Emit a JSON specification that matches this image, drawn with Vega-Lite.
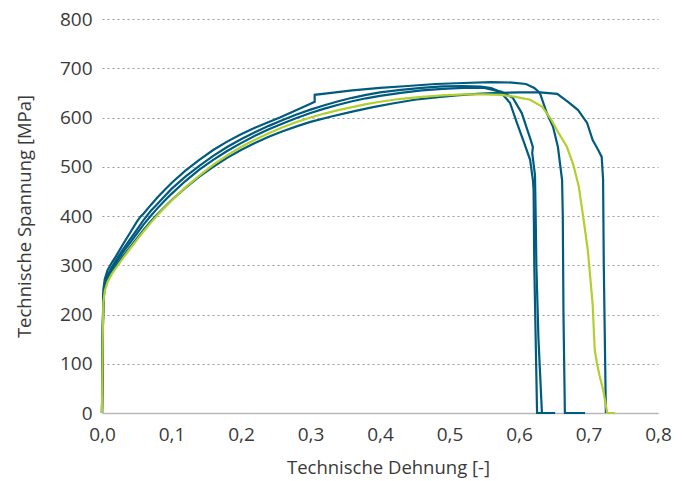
{
  "$schema": "https://vega.github.io/schema/vega-lite/v6.json",
  "width": 556,
  "height": 394,
  "autosize": {"type": "none"},
  "padding": {"left": 102, "top": 19, "right": 28, "bottom": 68},
  "background": "white",
  "config": {"view": {"stroke": null}, "font": "Open Sans"},
  "data": {"values": [
    {"s":"D1","i":0,"x":0,"y":0},{"s":"D1","i":1,"x":0.001,"y":150},{"s":"D1","i":2,"x":0.002,"y":240},{"s":"D1","i":3,"x":0.004,"y":262},{"s":"D1","i":4,"x":0.008,"y":280},{"s":"D1","i":5,"x":0.014,"y":296},{"s":"D1","i":6,"x":0.02,"y":310},{"s":"D1","i":7,"x":0.03,"y":332},{"s":"D1","i":8,"x":0.04,"y":352},{"s":"D1","i":9,"x":0.05,"y":372},{"s":"D1","i":10,"x":0.06,"y":392},{"s":"D1","i":11,"x":0.07,"y":410},{"s":"D1","i":12,"x":0.08,"y":425},{"s":"D1","i":13,"x":0.09,"y":440},{"s":"D1","i":14,"x":0.10,"y":455},{"s":"D1","i":15,"x":0.12,"y":480},{"s":"D1","i":16,"x":0.14,"y":502},{"s":"D1","i":17,"x":0.16,"y":522},{"s":"D1","i":18,"x":0.18,"y":540},{"s":"D1","i":19,"x":0.20,"y":556},{"s":"D1","i":20,"x":0.22,"y":570},{"s":"D1","i":21,"x":0.24,"y":583},{"s":"D1","i":22,"x":0.26,"y":595},{"s":"D1","i":23,"x":0.28,"y":606},{"s":"D1","i":24,"x":0.30,"y":616},{"s":"D1","i":25,"x":0.32,"y":625},{"s":"D1","i":26,"x":0.34,"y":633},{"s":"D1","i":27,"x":0.36,"y":640},{"s":"D1","i":28,"x":0.38,"y":646},{"s":"D1","i":29,"x":0.40,"y":651},{"s":"D1","i":30,"x":0.43,"y":656},{"s":"D1","i":31,"x":0.46,"y":660},{"s":"D1","i":32,"x":0.49,"y":663},{"s":"D1","i":33,"x":0.52,"y":664},{"s":"D1","i":34,"x":0.545,"y":663},{"s":"D1","i":35,"x":0.56,"y":660},{"s":"D1","i":36,"x":0.573,"y":652},{"s":"D1","i":37,"x":0.587,"y":630},{"s":"D1","i":38,"x":0.597,"y":589},{"s":"D1","i":39,"x":0.606,"y":554},{"s":"D1","i":40,"x":0.616,"y":514},{"s":"D1","i":41,"x":0.62,"y":473},{"s":"D1","i":42,"x":0.621,"y":453},{"s":"D1","i":43,"x":0.622,"y":300},{"s":"D1","i":44,"x":0.624,"y":150},{"s":"D1","i":45,"x":0.626,"y":0},{"s":"D1","i":46,"x":0.652,"y":0},

    {"s":"D2","i":0,"x":0,"y":0},{"s":"D2","i":1,"x":0.001,"y":150},{"s":"D2","i":2,"x":0.002,"y":235},{"s":"D2","i":3,"x":0.004,"y":258},{"s":"D2","i":4,"x":0.008,"y":276},{"s":"D2","i":5,"x":0.014,"y":292},{"s":"D2","i":6,"x":0.02,"y":305},{"s":"D2","i":7,"x":0.03,"y":326},{"s":"D2","i":8,"x":0.04,"y":345},{"s":"D2","i":9,"x":0.05,"y":364},{"s":"D2","i":10,"x":0.06,"y":383},{"s":"D2","i":11,"x":0.07,"y":400},{"s":"D2","i":12,"x":0.08,"y":416},{"s":"D2","i":13,"x":0.09,"y":431},{"s":"D2","i":14,"x":0.10,"y":445},{"s":"D2","i":15,"x":0.12,"y":471},{"s":"D2","i":16,"x":0.14,"y":494},{"s":"D2","i":17,"x":0.16,"y":514},{"s":"D2","i":18,"x":0.18,"y":532},{"s":"D2","i":19,"x":0.20,"y":548},{"s":"D2","i":20,"x":0.22,"y":563},{"s":"D2","i":21,"x":0.24,"y":576},{"s":"D2","i":22,"x":0.26,"y":588},{"s":"D2","i":23,"x":0.28,"y":599},{"s":"D2","i":24,"x":0.30,"y":609},{"s":"D2","i":25,"x":0.32,"y":618},{"s":"D2","i":26,"x":0.34,"y":626},{"s":"D2","i":27,"x":0.36,"y":633},{"s":"D2","i":28,"x":0.38,"y":639},{"s":"D2","i":29,"x":0.40,"y":644},{"s":"D2","i":30,"x":0.43,"y":650},{"s":"D2","i":31,"x":0.46,"y":655},{"s":"D2","i":32,"x":0.49,"y":658},{"s":"D2","i":33,"x":0.52,"y":660},{"s":"D2","i":34,"x":0.55,"y":660},{"s":"D2","i":35,"x":0.575,"y":652},{"s":"D2","i":36,"x":0.591,"y":640},{"s":"D2","i":37,"x":0.604,"y":609},{"s":"D2","i":38,"x":0.612,"y":575},{"s":"D2","i":39,"x":0.616,"y":558},{"s":"D2","i":40,"x":0.62,"y":540},{"s":"D2","i":41,"x":0.619,"y":528},{"s":"D2","i":42,"x":0.623,"y":483},{"s":"D2","i":43,"x":0.624,"y":400},{"s":"D2","i":44,"x":0.625,"y":300},{"s":"D2","i":45,"x":0.628,"y":150},{"s":"D2","i":46,"x":0.633,"y":0},{"s":"D2","i":47,"x":0.640,"y":0},

    {"s":"D3","i":0,"x":0,"y":0},{"s":"D3","i":1,"x":0.001,"y":160},{"s":"D3","i":2,"x":0.002,"y":250},{"s":"D3","i":3,"x":0.004,"y":272},{"s":"D3","i":4,"x":0.008,"y":290},{"s":"D3","i":5,"x":0.014,"y":305},{"s":"D3","i":6,"x":0.02,"y":318},{"s":"D3","i":7,"x":0.03,"y":342},{"s":"D3","i":8,"x":0.04,"y":365},{"s":"D3","i":9,"x":0.05,"y":388},{"s":"D3","i":10,"x":0.055,"y":398},{"s":"D3","i":11,"x":0.06,"y":405},{"s":"D3","i":12,"x":0.07,"y":422},{"s":"D3","i":13,"x":0.08,"y":438},{"s":"D3","i":14,"x":0.09,"y":453},{"s":"D3","i":15,"x":0.10,"y":467},{"s":"D3","i":16,"x":0.12,"y":492},{"s":"D3","i":17,"x":0.14,"y":514},{"s":"D3","i":18,"x":0.16,"y":534},{"s":"D3","i":19,"x":0.18,"y":551},{"s":"D3","i":20,"x":0.20,"y":566},{"s":"D3","i":21,"x":0.22,"y":579},{"s":"D3","i":22,"x":0.24,"y":591},{"s":"D3","i":23,"x":0.256,"y":600},{"s":"D3","i":24,"x":0.28,"y":615},{"s":"D3","i":25,"x":0.30,"y":628},{"s":"D3","i":26,"x":0.306,"y":632},{"s":"D3","i":27,"x":0.306,"y":646},{"s":"D3","i":28,"x":0.33,"y":650},{"s":"D3","i":29,"x":0.36,"y":655},{"s":"D3","i":30,"x":0.40,"y":660},{"s":"D3","i":31,"x":0.44,"y":664},{"s":"D3","i":32,"x":0.48,"y":668},{"s":"D3","i":33,"x":0.52,"y":670},{"s":"D3","i":34,"x":0.56,"y":672},{"s":"D3","i":35,"x":0.59,"y":671},{"s":"D3","i":36,"x":0.61,"y":668},{"s":"D3","i":37,"x":0.622,"y":660},{"s":"D3","i":38,"x":0.63,"y":650},{"s":"D3","i":39,"x":0.64,"y":609},{"s":"D3","i":40,"x":0.649,"y":581},{"s":"D3","i":41,"x":0.656,"y":540},{"s":"D3","i":42,"x":0.662,"y":473},{"s":"D3","i":43,"x":0.663,"y":400},{"s":"D3","i":44,"x":0.664,"y":200},{"s":"D3","i":45,"x":0.666,"y":0},{"s":"D3","i":46,"x":0.695,"y":0},

    {"s":"D4","i":0,"x":0,"y":0},{"s":"D4","i":1,"x":0.001,"y":150},{"s":"D4","i":2,"x":0.002,"y":230},{"s":"D4","i":3,"x":0.004,"y":252},{"s":"D4","i":4,"x":0.008,"y":270},{"s":"D4","i":5,"x":0.014,"y":286},{"s":"D4","i":6,"x":0.02,"y":298},{"s":"D4","i":7,"x":0.03,"y":318},{"s":"D4","i":8,"x":0.04,"y":336},{"s":"D4","i":9,"x":0.05,"y":354},{"s":"D4","i":10,"x":0.06,"y":372},{"s":"D4","i":11,"x":0.07,"y":389},{"s":"D4","i":12,"x":0.08,"y":404},{"s":"D4","i":13,"x":0.09,"y":418},{"s":"D4","i":14,"x":0.10,"y":432},{"s":"D4","i":15,"x":0.12,"y":457},{"s":"D4","i":16,"x":0.14,"y":480},{"s":"D4","i":17,"x":0.16,"y":500},{"s":"D4","i":18,"x":0.18,"y":518},{"s":"D4","i":19,"x":0.20,"y":534},{"s":"D4","i":20,"x":0.22,"y":548},{"s":"D4","i":21,"x":0.24,"y":561},{"s":"D4","i":22,"x":0.26,"y":572},{"s":"D4","i":23,"x":0.28,"y":582},{"s":"D4","i":24,"x":0.30,"y":591},{"s":"D4","i":25,"x":0.33,"y":602},{"s":"D4","i":26,"x":0.36,"y":612},{"s":"D4","i":27,"x":0.39,"y":621},{"s":"D4","i":28,"x":0.42,"y":629},{"s":"D4","i":29,"x":0.45,"y":636},{"s":"D4","i":30,"x":0.48,"y":641},{"s":"D4","i":31,"x":0.51,"y":645},{"s":"D4","i":32,"x":0.54,"y":648},{"s":"D4","i":33,"x":0.57,"y":650},{"s":"D4","i":34,"x":0.60,"y":651},{"s":"D4","i":35,"x":0.63,"y":651},{"s":"D4","i":36,"x":0.655,"y":648},{"s":"D4","i":37,"x":0.671,"y":631},{"s":"D4","i":38,"x":0.685,"y":615},{"s":"D4","i":39,"x":0.698,"y":589},{"s":"D4","i":40,"x":0.706,"y":554},{"s":"D4","i":41,"x":0.714,"y":534},{"s":"D4","i":42,"x":0.719,"y":520},{"s":"D4","i":43,"x":0.721,"y":473},{"s":"D4","i":44,"x":0.722,"y":300},{"s":"D4","i":45,"x":0.725,"y":0},

    {"s":"L","i":0,"x":0,"y":0},{"s":"L","i":1,"x":0.001,"y":150},{"s":"L","i":2,"x":0.002,"y":225},{"s":"L","i":3,"x":0.004,"y":248},{"s":"L","i":4,"x":0.008,"y":266},{"s":"L","i":5,"x":0.014,"y":282},{"s":"L","i":6,"x":0.02,"y":294},{"s":"L","i":7,"x":0.03,"y":314},{"s":"L","i":8,"x":0.04,"y":333},{"s":"L","i":9,"x":0.05,"y":351},{"s":"L","i":10,"x":0.06,"y":369},{"s":"L","i":11,"x":0.07,"y":386},{"s":"L","i":12,"x":0.08,"y":402},{"s":"L","i":13,"x":0.09,"y":417},{"s":"L","i":14,"x":0.10,"y":431},{"s":"L","i":15,"x":0.12,"y":458},{"s":"L","i":16,"x":0.14,"y":482},{"s":"L","i":17,"x":0.16,"y":504},{"s":"L","i":18,"x":0.18,"y":523},{"s":"L","i":19,"x":0.20,"y":540},{"s":"L","i":20,"x":0.22,"y":555},{"s":"L","i":21,"x":0.24,"y":568},{"s":"L","i":22,"x":0.26,"y":580},{"s":"L","i":23,"x":0.28,"y":591},{"s":"L","i":24,"x":0.30,"y":600},{"s":"L","i":25,"x":0.32,"y":608},{"s":"L","i":26,"x":0.34,"y":615},{"s":"L","i":27,"x":0.36,"y":621},{"s":"L","i":28,"x":0.38,"y":627},{"s":"L","i":29,"x":0.40,"y":632},{"s":"L","i":30,"x":0.43,"y":638},{"s":"L","i":31,"x":0.46,"y":642},{"s":"L","i":32,"x":0.49,"y":645},{"s":"L","i":33,"x":0.52,"y":647},{"s":"L","i":34,"x":0.55,"y":647},{"s":"L","i":35,"x":0.575,"y":646},{"s":"L","i":36,"x":0.595,"y":642},{"s":"L","i":37,"x":0.616,"y":636},{"s":"L","i":38,"x":0.633,"y":622},{"s":"L","i":39,"x":0.645,"y":599},{"s":"L","i":40,"x":0.656,"y":571},{"s":"L","i":41,"x":0.669,"y":540},{"s":"L","i":42,"x":0.678,"y":505},{"s":"L","i":43,"x":0.686,"y":460},{"s":"L","i":44,"x":0.691,"y":412},{"s":"L","i":45,"x":0.699,"y":331},{"s":"L","i":46,"x":0.706,"y":220},{"s":"L","i":47,"x":0.709,"y":128},{"s":"L","i":48,"x":0.712,"y":102},{"s":"L","i":49,"x":0.716,"y":75},{"s":"L","i":50,"x":0.721,"y":47},{"s":"L","i":51,"x":0.727,"y":0},{"s":"L","i":52,"x":0.738,"y":0}
  ]},
  "mark": {"type": "line", "strokeWidth": 2.2, "interpolate": "linear"},
  "encoding": {
    "x": {"field": "x", "type": "quantitative",
      "scale": {"domain": [0, 0.8], "nice": false, "zero": false},
      "axis": {"values": [0,0.1,0.2,0.3,0.4,0.5,0.6,0.7,0.8], "labelExpr": "replace(format(datum.value, '.1f'), '.', ',')",
        "title": "Technische Dehnung [-]", "grid": false, "ticks": false, "domain": true, "domainColor": "#b8b8b8", "domainWidth": 1.5,
        "labelPadding": 12, "titlePadding": 14, "titleX": 286, "titleAlign": "center", "labelFontSize": 19, "titleFontSize": 18.5, "labelColor": "#3a3a3a", "titleColor": "#3a3a3a",
        "titleFontWeight": "normal", "labelFlush": false, "labelFont": "Open Sans", "titleFont": "Open Sans"}},
    "y": {"field": "y", "type": "quantitative",
      "scale": {"domain": [0, 800], "nice": false},
      "axis": {"values": [0,100,200,300,400,500,600,700,800], "title": "Technische Spannung [MPa]", "grid": true, "gridDash": [2,3], "gridColor": "#9a9a9a", "gridWidth": 1,
        "ticks": false, "domain": false, "labelPadding": 10, "titlePadding": 25, "labelFontSize": 19, "titleFontSize": 18.5, "labelColor": "#3a3a3a", "titleColor": "#3a3a3a",
        "titleFontWeight": "normal", "labelFlush": false, "labelFont": "Open Sans", "titleFont": "Open Sans"}},
    "color": {"field": "s", "type": "nominal", "legend": null,
      "scale": {"domain": ["D1","D2","D3","D4","L"], "range": ["#005b7f","#005b7f","#005b7f","#005b7f","#b2cf2f"]}},
    "detail": {"field": "s"},
    "order": {"field": "i", "type": "quantitative"}
  }
}
